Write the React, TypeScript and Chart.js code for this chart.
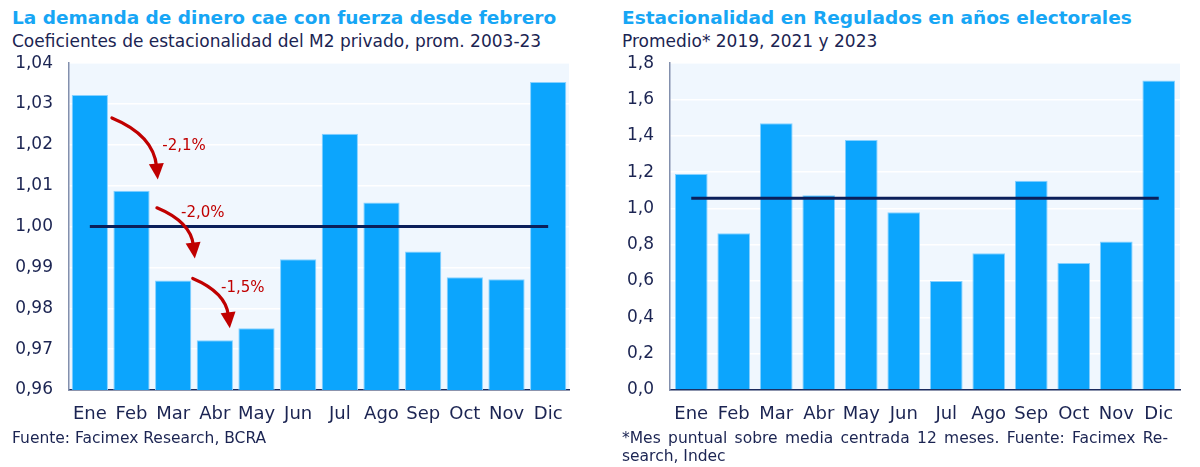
import React, { useEffect, useRef } from 'react';
import { Chart, registerables } from 'chart.js';

Chart.register(...registerables);

// ---------- data ----------
const months = ['Ene', 'Feb', 'Mar', 'Abr', 'May', 'Jun', 'Jul', 'Ago', 'Sep', 'Oct', 'Nov', 'Dic'];
const m2Coef = [1.0322, 1.0088, 0.9868, 0.9722, 0.9751, 0.9920, 1.0227, 1.0059, 0.9939, 0.9876, 0.9871, 1.0354];
const m2Base = [1, 1, 1, 1, 1, 1, 1, 1, 1, 1, 1, 1];
const regulados = [1.19, 0.863, 1.469, 1.072, 1.377, 0.979, 0.600, 0.753, 1.152, 0.699, 0.818, 1.705];
const reguladosAvg = [1.056, 1.056, 1.056, 1.056, 1.056, 1.056, 1.056, 1.056, 1.056, 1.056, 1.056, 1.056];
const leftRange = [0.96, 1.04];
const rightRange = [0, 1.8];

// annotation arrows (data space: [category index, value])
const dropLabels = ['-2,1%', '-2,0%', '-1,5%'];
const dropArrowFrom = [[0.53, 1.0266], [1.61, 1.0046], [2.47, 0.9873]];
const dropArrowTo = [[1.63, 1.0115], [2.52, 0.9922], [3.36, 0.9751]];
const dropLabelAt = [[2.26, 1.0198], [2.71, 1.0032], [3.67, 0.9849]];

// ---------- styles ----------
const FONT = "'DejaVu Sans', sans-serif";
const NAVY = '#1b2452';
const BAR = '#0ca5fd';
const BAR_BORDER = '#86d1ff';
const LINE = '#0b1f5a';
const RED = '#c00000';
const PLOT_BG = '#f0f7fe';

const plotBg = {
  id: 'plotBg',
  beforeDraw(chart: any) {
    const { ctx, chartArea: a } = chart;
    ctx.save();
    ctx.fillStyle = PLOT_BG;
    ctx.fillRect(a.left, a.top, a.right - a.left, a.bottom - a.top);
    ctx.restore();
  },
};

const dropArrows = {
  id: 'dropArrows',
  afterDatasetsDraw(chart: any) {
    const xs = chart.scales.x;
    const ys = chart.scales.y;
    const { ctx } = chart;
    ctx.save();
    dropLabels.forEach((lab, k) => {
      const sx = xs.getPixelForValue(dropArrowFrom[k][0]);
      const sy = ys.getPixelForValue(dropArrowFrom[k][1]);
      const ex = xs.getPixelForValue(dropArrowTo[k][0]);
      const ey = ys.getPixelForValue(dropArrowTo[k][1]);
      const cx = ex - 4;
      const cy = sy + (ey - sy) * 0.28;
      ctx.strokeStyle = RED;
      ctx.fillStyle = RED;
      ctx.lineWidth = 3.2;
      ctx.lineCap = 'round';
      const hl = 16;
      const hw = 7.5;
      const ang = Math.atan2(ey - cy, ex - cx);
      ctx.beginPath();
      ctx.moveTo(sx, sy);
      ctx.quadraticCurveTo(cx, cy, ex - (hl - 3) * Math.cos(ang), ey - (hl - 3) * Math.sin(ang));
      ctx.stroke();
      ctx.beginPath();
      ctx.moveTo(ex, ey);
      ctx.lineTo(ex - hl * Math.cos(ang) + hw * Math.sin(ang), ey - hl * Math.sin(ang) - hw * Math.cos(ang));
      ctx.lineTo(ex - hl * Math.cos(ang) - hw * Math.sin(ang), ey - hl * Math.sin(ang) + hw * Math.cos(ang));
      ctx.closePath();
      ctx.fill();
      ctx.font = `15px ${FONT}`;
      ctx.textAlign = 'center';
      ctx.textBaseline = 'middle';
      ctx.fillText(lab, xs.getPixelForValue(dropLabelAt[k][0]), ys.getPixelForValue(dropLabelAt[k][1]));
    });
    ctx.restore();
  },
};

function makeConfig(
  values: number[],
  line: number[],
  range: number[],
  step: number,
  decimals: number,
  barPct: number,
  yWidth: number,
  padRight: number,
  extraPlugins: any[]
): any {
  return {
    type: 'bar',
    data: {
      labels: months,
      datasets: [
        {
          type: 'line',
          data: line,
          borderColor: LINE,
          borderWidth: 3,
          pointRadius: 0,
          order: 0,
        },
        {
          type: 'bar',
          data: values,
          backgroundColor: BAR,
          borderColor: BAR_BORDER,
          borderWidth: 1,
          barPercentage: barPct,
          categoryPercentage: 1,
          order: 1,
        },
      ],
    },
    options: {
      animation: false,
      responsive: false,
      maintainAspectRatio: false,
      layout: { padding: { top: 10, right: padRight, left: 0, bottom: 0 } },
      plugins: { legend: { display: false }, tooltip: { enabled: false } },
      scales: {
        x: {
          grid: { display: false, drawTicks: false },
          border: { display: true, color: '#1b2a5c', width: 1.5 },
          ticks: { color: NAVY, font: { family: FONT, size: 18 }, padding: 14, maxRotation: 0, autoSkip: false },
          afterFit(s: any) { s.height = 42; },
        },
        y: {
          min: range[0],
          max: range[1],
          grid: { color: '#ffffff', lineWidth: 1.5, drawTicks: false },
          border: { display: true, color: '#8390ad', width: 1.5 },
          ticks: {
            stepSize: step,
            color: NAVY,
            padding: 16,
            font: { family: FONT, size: 17 },
            callback: (v: any) => Number(v).toFixed(decimals).replace('.', ','),
          },
          afterFit(s: any) { s.width = yWidth; },
        },
      },
    },
    plugins: [plotBg, ...extraPlugins],
  };
}

function ChartBox(props: { config: any; left: number; top: number; width: number; height: number }) {
  const ref = useRef<HTMLCanvasElement | null>(null);
  useEffect(() => {
    if (!ref.current) return;
    const c = new Chart(ref.current, props.config);
    return () => c.destroy();
  }, []);
  return (
    <canvas
      ref={ref}
      width={props.width}
      height={props.height}
      style={{ position: 'absolute', left: props.left, top: props.top, width: props.width, height: props.height }}
    />
  );
}

const titleStyle: React.CSSProperties = {
  position: 'absolute',
  fontFamily: FONT,
  fontWeight: 700,
  fontSize: 18.5,
  color: '#17a6f5',
  whiteSpace: 'nowrap',
  lineHeight: '24px',
};
const subStyle: React.CSSProperties = {
  position: 'absolute',
  fontFamily: FONT,
  fontSize: 17,
  color: NAVY,
  whiteSpace: 'nowrap',
  lineHeight: '22px',
};
const footStyle: React.CSSProperties = {
  position: 'absolute',
  fontFamily: FONT,
  fontSize: 15.5,
  color: NAVY,
  lineHeight: '18px',
};

export default function App() {
  const leftCfg = makeConfig(m2Coef, m2Base, leftRange, 0.01, 2, 0.87, 69, 31, [dropArrows]);
  const rightCfg = makeConfig(regulados, reguladosAvg, rightRange, 0.2, 1, 0.77, 70, 20, []);
  return (
    <div style={{ position: 'absolute', left: 0, top: 0, width: 1200, height: 467, background: '#fff', overflow: 'hidden' }}>
      <div style={{ ...titleStyle, left: 12, top: 6 }}>La demanda de dinero cae con fuerza desde febrero</div>
      <div style={{ ...subStyle, left: 12, top: 30 }}>Coeficientes de estacionalidad del M2 privado, prom. 2003-23</div>
      <div style={{ ...titleStyle, left: 622, top: 6 }}>Estacionalidad en Regulados en años electorales</div>
      <div style={{ ...subStyle, left: 622, top: 30 }}>Promedio* 2019, 2021 y 2023</div>
      <ChartBox config={leftCfg} left={0} top={37} width={600} height={395} />
      <ChartBox config={rightCfg} left={600} top={37} width={600} height={395} />
      <div style={{ ...footStyle, left: 12, top: 429, whiteSpace: 'nowrap' }}>Fuente: Facimex Research, BCRA</div>
      <div style={{ ...footStyle, left: 622, top: 429, width: 546 }}>
        <div style={{ textAlign: 'justify', textAlignLast: 'justify' }}>
          *Mes puntual sobre media centrada 12 meses. Fuente: Facimex Re-
        </div>
        <div>search, Indec</div>
      </div>
    </div>
  );
}
